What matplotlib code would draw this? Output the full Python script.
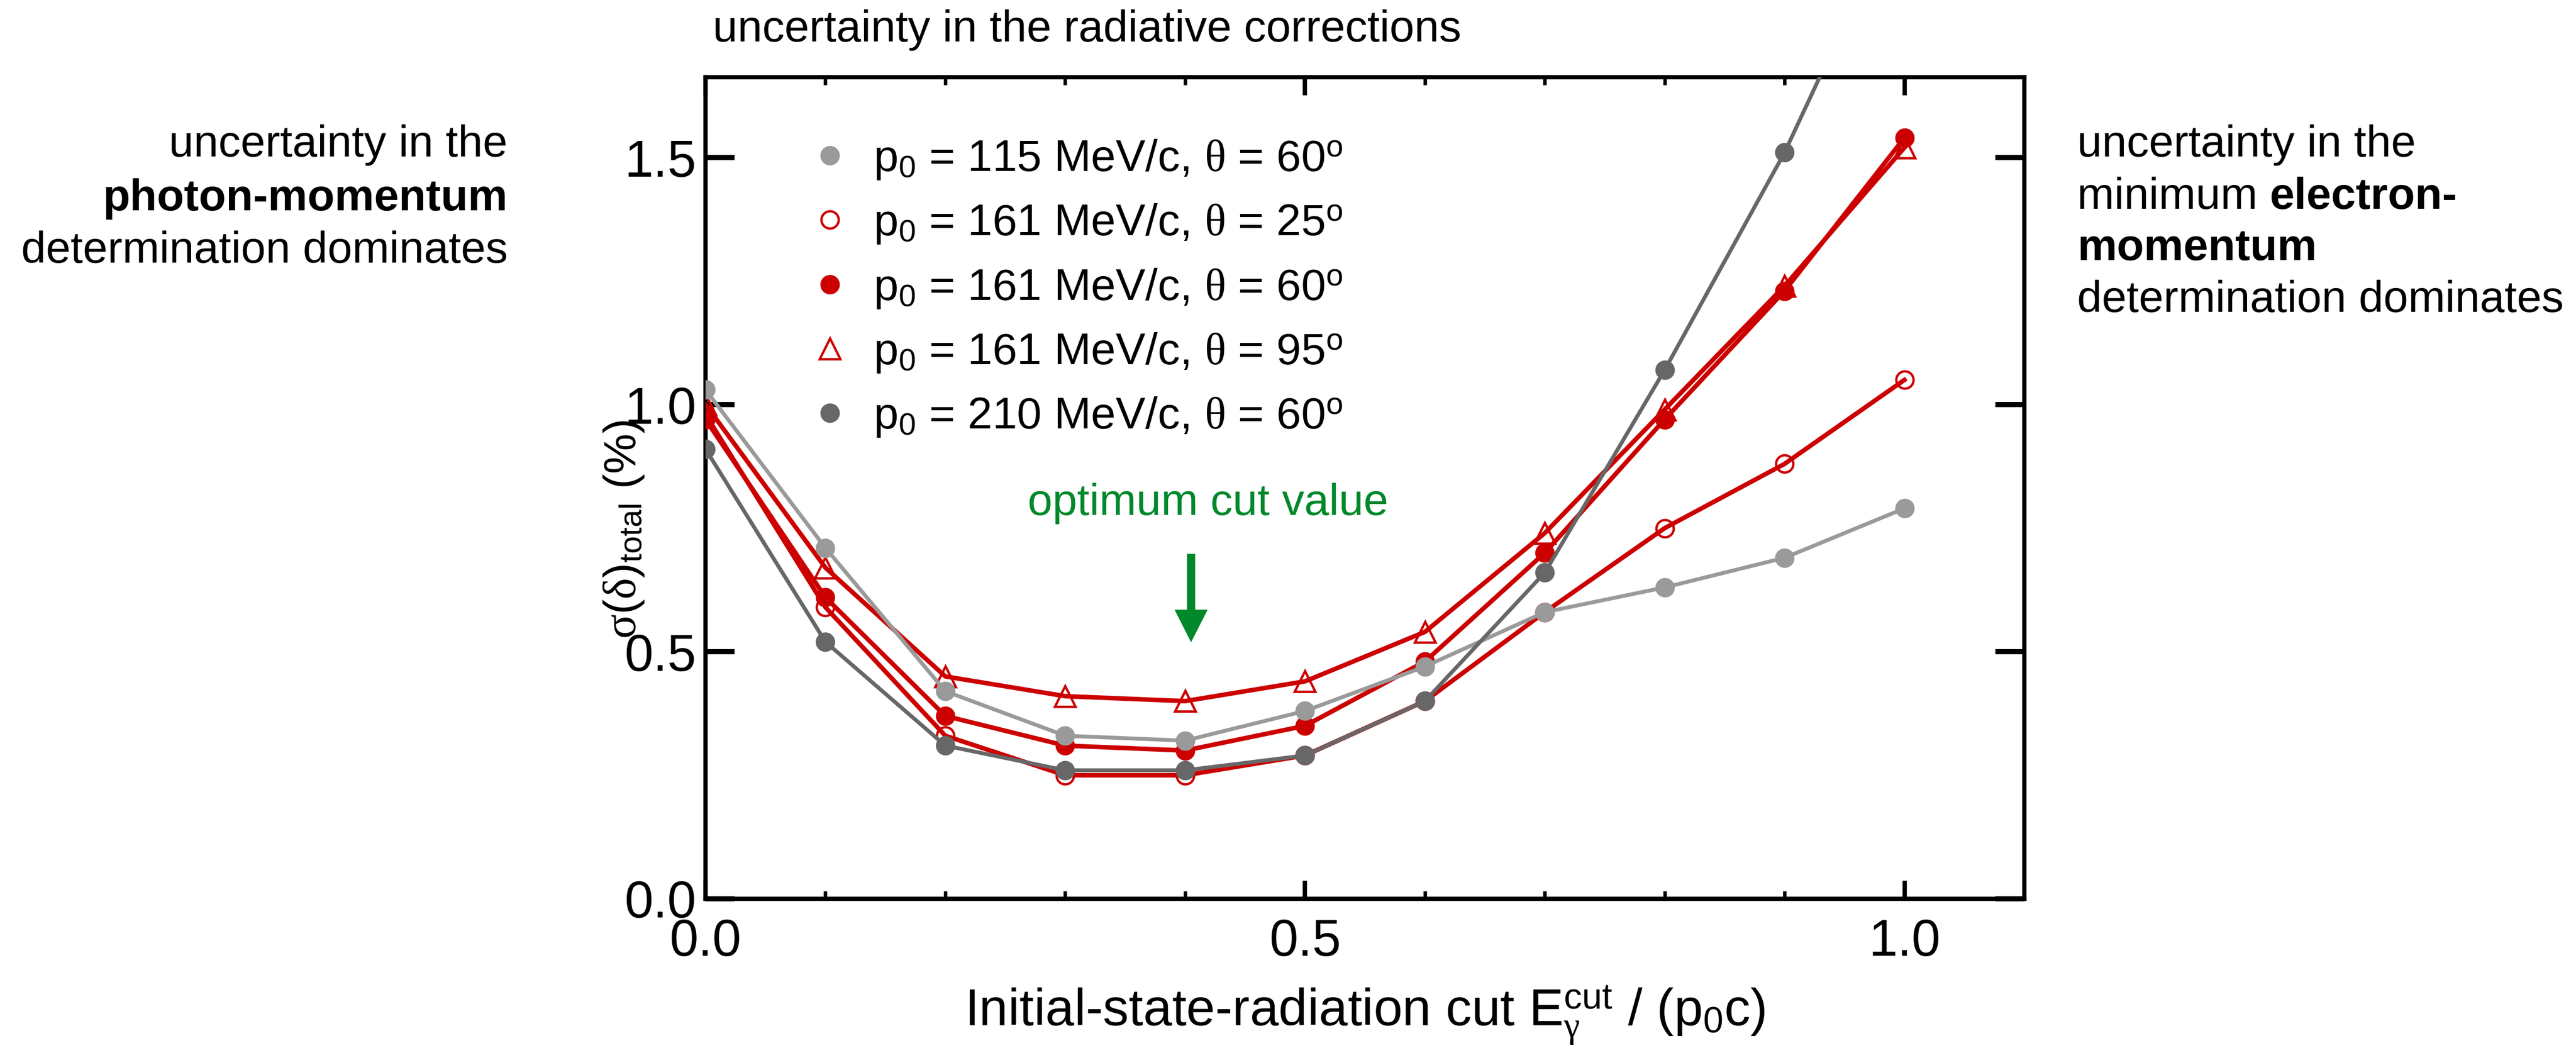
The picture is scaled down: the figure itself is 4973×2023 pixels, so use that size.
import matplotlib
matplotlib.use('Agg')
import matplotlib.pyplot as plt
from matplotlib.lines import Line2D
from matplotlib.ticker import MultipleLocator, FormatStrFormatter

plt.rcParams['font.family'] = ['Liberation Sans', 'DejaVu Sans']
plt.rcParams['mathtext.fontset'] = 'custom'
plt.rcParams['mathtext.rm'] = 'Liberation Sans'
plt.rcParams['mathtext.it'] = 'Liberation Serif'
plt.rcParams['mathtext.bf'] = 'Liberation Sans:bold'
plt.rcParams['mathtext.sf'] = 'Liberation Sans'

# ---------------- data ----------------
x_cut = [0.0, 0.1, 0.2, 0.3, 0.4, 0.5, 0.6, 0.7, 0.8, 0.9, 1.0]
p115_th60 = [1.03, 0.71, 0.42, 0.33, 0.32, 0.38, 0.47, 0.58, 0.63, 0.69, 0.79]
p161_th25 = [0.98, 0.59, 0.33, 0.25, 0.25, 0.29, 0.40, 0.58, 0.75, 0.88, 1.05]
p161_th60 = [0.97, 0.61, 0.37, 0.31, 0.30, 0.35, 0.48, 0.70, 0.97, 1.23, 1.54]
p161_th95 = [1.00, 0.67, 0.45, 0.41, 0.40, 0.44, 0.54, 0.74, 0.99, 1.24, 1.52]
p210_th60 = [0.91, 0.52, 0.31, 0.26, 0.26, 0.29, 0.40, 0.66, 1.07, 1.51, 2.03]

labels = [r'p$_0$ = 115 MeV/c, $\theta$ = 60$^{\mathrm{o}}$',
          r'p$_0$ = 161 MeV/c, $\theta$ = 25$^{\mathrm{o}}$',
          r'p$_0$ = 161 MeV/c, $\theta$ = 60$^{\mathrm{o}}$',
          r'p$_0$ = 161 MeV/c, $\theta$ = 95$^{\mathrm{o}}$',
          r'p$_0$ = 210 MeV/c, $\theta$ = 60$^{\mathrm{o}}$']

optimum_cut = 0.405

# ---------------- styles ----------------
LGRAY = '#9a9a9a'
DGRAY = '#676767'
RED = '#cc0000'
GREEN = '#00882b'
FS = 20.6

W, H = 4974, 2023
DPI = 300
fig = plt.figure(figsize=(W / DPI, H / DPI), dpi=DPI)

def fx(px):
    return px / W

def fy(py):
    return 1 - py / H

ax = fig.add_axes([fx(1362), fy(1735), fx(3908) - fx(1362), fy(149) - fy(1735)])

series = [
    (p115_th60, dict(color=LGRAY, marker='o', mfc=LGRAY, mec=LGRAY, ms=8, lw=1.8, zorder=4)),
    (p161_th25, dict(color=RED, marker='o', mfc='none', mec=RED, ms=8, mew=1.1, lw=2.1, zorder=3)),
    (p161_th60, dict(color=RED, marker='o', mfc=RED, mec=RED, ms=8, lw=2.1, zorder=3.2)),
    (p161_th95, dict(color=RED, marker='^', mfc='none', mec=RED, ms=9.5, mew=1.1, lw=2.1, zorder=3.1)),
    (p210_th60, dict(color=DGRAY, marker='o', mfc=DGRAY, mec=DGRAY, ms=8, lw=1.8, zorder=5)),
]
handles = []
for vals, st in series:
    ax.plot(x_cut, vals, **st)
    handles.append(Line2D([], [], ls='none', marker=st['marker'], mfc=st['mfc'],
                          mec=st['mec'], ms=st['ms'], mew=st.get('mew', 1.0)))

ax.set_xlim(0, 1.1)
ax.set_ylim(0, 1.6625)

ax.xaxis.set_major_locator(MultipleLocator(0.5))
ax.xaxis.set_minor_locator(MultipleLocator(0.1))
ax.yaxis.set_major_locator(MultipleLocator(0.5))
ax.xaxis.set_major_formatter(FormatStrFormatter('%.1f'))
ax.yaxis.set_major_formatter(FormatStrFormatter('%.1f'))

ax.tick_params(axis='x', which='major', direction='in', top=True, bottom=True,
               length=8.4, width=2.0, pad=9, labelsize=24)
ax.tick_params(axis='x', which='minor', direction='in', top=True, bottom=True,
               length=3.6, width=1.6)
ax.tick_params(axis='y', which='major', direction='in', left=True, right=True,
               length=13.5, width=2.4, pad=4.3, labelsize=24)
for sp in ax.spines.values():
    sp.set_linewidth(2.0)

ax.set_xlabel(r'Initial-state-radiation cut E$_\gamma^{\mathrm{cut}}$ / (p$_0$c)', fontsize=24,
              labelpad=8)
fig.text(fx(1205), fy(1022), r'$\sigma(\delta)_{\mathrm{total}}$ (%)', rotation=90,
         fontsize=21, ha='center', va='center')

leg = ax.legend(handles, labels, loc='upper left', bbox_to_anchor=(fx(1568), fy(266)),
                bbox_transform=fig.transFigure, frameon=False, fontsize=FS,
                handlelength=0.8, handletextpad=0.58, labelspacing=0.47,
                borderaxespad=0, borderpad=0)

# optimum cut annotation
ax.text(0.419, 0.777, 'optimum cut value', color=GREEN, fontsize=FS, ha='center',
        va='baseline')
ax.arrow(optimum_cut, 0.698, 0, 0.519 - 0.698, width=0.0069, head_width=0.0276,
         head_length=0.066, length_includes_head=True, color=GREEN, lw=0, zorder=6)

# side annotations
fig.text(fx(1376), fy(80), 'uncertainty in the radiative corrections', fontsize=FS,
         ha='left', va='baseline')

fig.text(fx(980), fy(302), 'uncertainty in the', fontsize=FS, ha='right', va='baseline')
fig.text(fx(980), fy(406), 'photon-momentum', fontsize=FS, ha='right', va='baseline',
         fontweight='bold')
fig.text(fx(980), fy(507), 'determination dominates', fontsize=FS, ha='right', va='baseline')

fig.text(fx(4010), fy(302), 'uncertainty in the', fontsize=FS, ha='left', va='baseline')
t2 = fig.text(fx(4010), fy(403), 'minimum ', fontsize=FS, ha='left', va='baseline')
fig.canvas.draw()
bb = t2.get_window_extent()
fig.text(bb.x1 / W, fy(403), 'electron-', fontsize=FS, ha='left', va='baseline',
         fontweight='bold')
fig.text(fx(4010), fy(502), 'momentum', fontsize=FS, ha='left', va='baseline',
         fontweight='bold')
fig.text(fx(4010), fy(602), 'determination dominates', fontsize=FS, ha='left', va='baseline')

fig.savefig('out.png', dpi=DPI)
